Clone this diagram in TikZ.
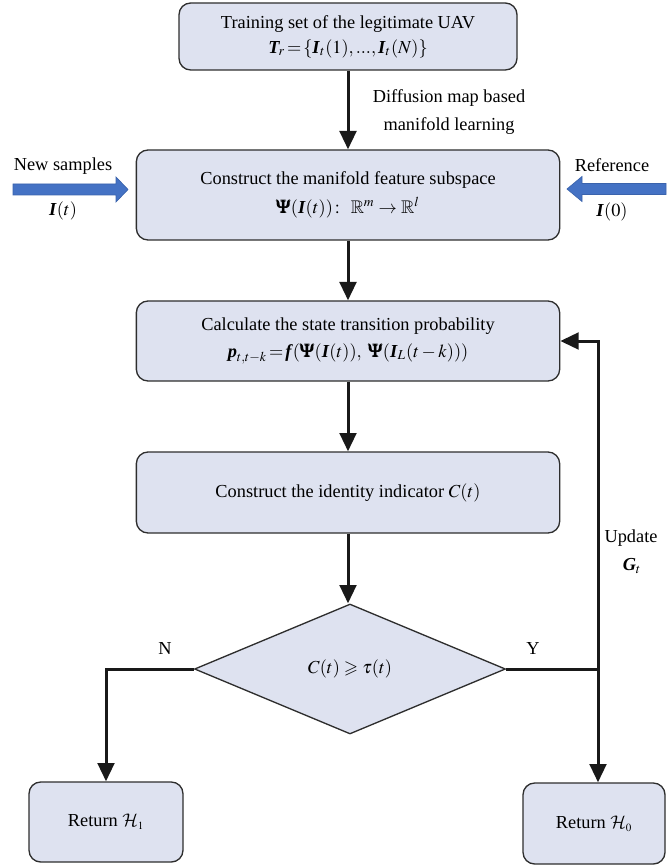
\documentclass[tikz,border=0pt]{standalone}
\usepackage{mathptmx}
\usepackage{amsmath,amssymb}
\usepackage[no-math]{fontspec}
\setmainfont{Liberation Serif}
\DeclareMathAlphabet{\mathcalcm}{OMS}{cmsy}{m}{n}
\usetikzlibrary{arrows.meta,shapes.geometric}
\definecolor{boxfill}{HTML}{DEE2F0}
\definecolor{boxline}{HTML}{2E2E2E}
\definecolor{arrowblue}{HTML}{4472C4}
\definecolor{arrowblueedge}{HTML}{3A63AC}
\newcommand\bolditl[1]{\textbf{\textit{#1}}}
\begin{document}
\begin{tikzpicture}[x=0.6pt,y=-0.6pt,
  font=\fontsize{11}{15}\selectfont,
  box/.style={draw=boxline, line width=0.8pt, fill=boxfill, rounded corners=7pt, align=center, inner sep=0pt},
  decision/.style={diamond, draw=boxline, line width=0.8pt, fill=boxfill, inner sep=0pt},
  conn/.style={line width=1.8pt, draw=black!90, -{Triangle[width=10pt,length=11pt]}},
  plainline/.style={line width=1.8pt, draw=black!90},
  bluearrow/.style={fill=arrowblue, draw=arrowblueedge, line width=0.4pt},
  lbl/.style={inner sep=0pt, align=center}]
\useasboundingbox (0,0) rectangle (666,866);

% boxes
\node[box, minimum width=202.8pt, minimum height=40.2pt] (b1) at (348,36.5)
  {Training set of the legitimate UAV\\[0pt] $\bolditl{T}_{\!r}\!=\!\{\bolditl{I}_t(1),...,\bolditl{I}_t(N)\}$};
\node[box, minimum width=254pt, minimum height=54pt] (b2) at (348,195)
  {Construct the manifold feature subspace\\[2pt] $\pmb{\Psi}(\bolditl{I}(t))\colon\ \mathbb{R}^m\rightarrow\mathbb{R}^l$};
\node[box, minimum width=254pt, minimum height=48pt] (b3) at (348,341)
  {Calculate the state transition probability\\[1pt] $\bolditl{p}_{t,t-k}\!=\!\bolditl{f}(\pmb{\Psi}(\bolditl{I}(t)),\ \pmb{\Psi}(\bolditl{I}_L(t-k)))$};
\node[box, minimum width=254pt, minimum height=48.6pt] (b4) at (348,492.5)
  {Construct the identity indicator $C(t)$};
\node[decision, minimum width=186.6pt, minimum height=78pt] (d) at (350,669)
  {$C(t)\geqslant\tau(t)$};
\node[box, minimum width=92.4pt, minimum height=48pt] (h1) at (106,822)
  {Return $\mathcalcm{H}_{\scriptscriptstyle 1}$};
\node[box, minimum width=85.2pt, minimum height=48.6pt] (h0) at (594,823.5)
  {Return $\mathcalcm{H}_{\scriptscriptstyle 0}$};

% side texts
\node[lbl] (diff) at (449,112) {Diffusion map based\\[2pt] manifold learning};
\node[lbl] (ns) at (63,166) {New samples};
\node[lbl] (it) at (63,211) {$\bolditl{I}(t)$};
\node[lbl] (ref) at (612,165) {Reference};
\node[lbl] (i0) at (612,212) {$\bolditl{I}(0)$};
\node[lbl] (nlab) at (165,648) {N};
\node[lbl] (ylab) at (533,648) {Y};
\node[lbl] (upd) at (631,538) {Update};
\node[lbl] (gt) at (632,566) {$\bolditl{G}_{t}$};

% blue input arrows
\draw[bluearrow] (13,184) -- (116,184) -- (116,177) -- (128,189.5) -- (116,202) -- (116,195) -- (13,195) -- cycle;
\draw[bluearrow] (666,183.5) -- (582,183.5) -- (582,176.5) -- (567,189) -- (582,201.5) -- (582,194.5) -- (666,194.5) -- cycle;

% connectors
\coordinate (j) at (598,669);
\draw[conn] (b1) -- (b2);
\draw[conn] (b2) -- (b3);
\draw[conn] (b3) -- (b4);
\draw[conn] (b4.south) -- (b4.south |- d.north);
\draw[conn] (d.west) -| (h1.north);
\draw[plainline] (d.east) -- (j);
\draw[conn] (j) |- (b3.east);
\draw[conn] (j) -- (j |- h0.north);
\end{tikzpicture}
\end{document}
